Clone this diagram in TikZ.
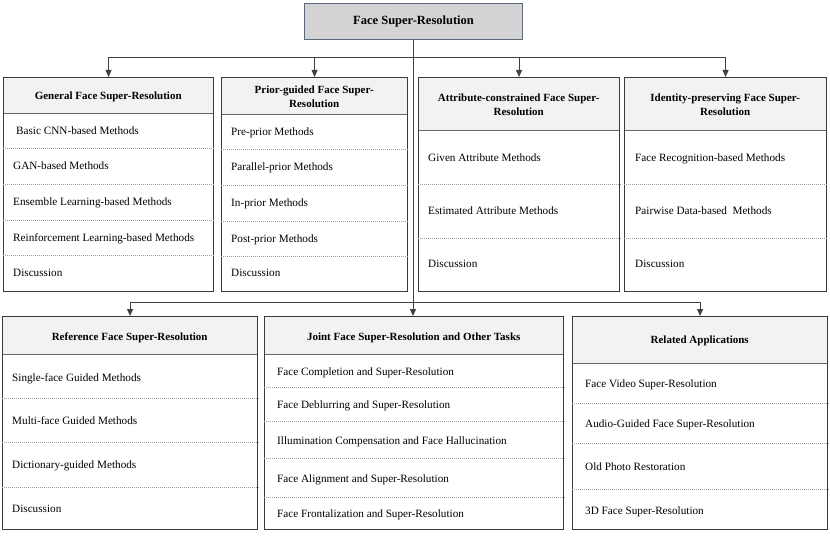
\documentclass[tikz,border=0pt]{standalone}
\usepackage{fontspec}
\setmainfont{Liberation Serif}
\usetikzlibrary{arrows.meta}
\definecolor{topfill}{HTML}{D3D3D3}
\definecolor{topdraw}{HTML}{5A6878}
\definecolor{headfill}{HTML}{F2F2F2}
\definecolor{boxdraw}{HTML}{3A3A3A}
\definecolor{conncol}{HTML}{404040}
\tikzset{
  outerbox/.style={draw=boxdraw, line width=1.1bp, anchor=north west, inner sep=0pt},
  headbox/.style={fill=headfill, anchor=north west, inner sep=0pt},
  headtext/.style={inner sep=0pt, align=center,
     font=\fontsize{11bp}{13.5bp}\selectfont\bfseries},
  topbox/.style={fill=topfill, draw=topdraw, line width=1.1bp, anchor=north west, inner sep=0pt,
     font=\fontsize{12.5bp}{14bp}\selectfont\bfseries},
  itemtext/.style={anchor=base west, inner sep=0pt, font=\fontsize{11.2bp}{13bp}\selectfont},
  sepline/.style={draw=gray!75, line width=0.8bp, dash pattern=on 1bp off 1bp},
  headline/.style={draw=gray!80!black, line width=1bp},
  conn/.style={draw=conncol, line width=1bp},
  arr/.style={conn, -{Triangle[length=7bp,width=6bp]}}
}
\begin{document}
\begin{tikzpicture}[x=1bp,y=-1bp]
\useasboundingbox (0,0) rectangle (830,537);
% top
\node[topbox, minimum width=218bp, minimum height=36bp] (top) at (304,3) {Face Super-Resolution};
% header fills
\node[headbox, minimum width=210bp, minimum height=36bp] (h1) at (3,77) {};
\node[headbox, minimum width=186bp, minimum height=37bp] (h2) at (221,77) {};
\node[headbox, minimum width=201bp, minimum height=53bp] (h3) at (418,77) {};
\node[headbox, minimum width=202bp, minimum height=53bp] (h4) at (624,77) {};
\node[headbox, minimum width=255bp, minimum height=38bp] (h5) at (2,316) {};
\node[headbox, minimum width=299bp, minimum height=38bp] (h6) at (264,316) {};
\node[headbox, minimum width=255bp, minimum height=47bp] (h7) at (572,316) {};
\foreach \h in {h1,h2,h3,h4,h5,h6,h7} \draw[headline] (\h.south west) -- (\h.south east);
% header texts
\node[headtext] (h1t) at ([yshift=-1.8bp]h1.center) {General Face Super-Resolution};
\node[headtext] (h2t) at ([yshift=-1.2bp]h2.center) {Prior-guided Face Super-\\Resolution};
\node[headtext] (h3t) at ([yshift=-1.2bp]h3.center) {Attribute-constrained Face Super-\\Resolution};
\node[headtext] (h4t) at ([yshift=-1.2bp]h4.center) {Identity-preserving Face Super-\\Resolution};
\node[headtext] (h5t) at ([yshift=-2.5bp]h5.center) {Reference Face Super-Resolution};
\node[headtext] (h6t) at ([yshift=-2.5bp]h6.center) {Joint Face Super-Resolution and Other Tasks};
\node[headtext] (h7t) at ([yshift=-1.5bp]h7.center) {Related Applications};
% outer boxes
\node[outerbox, minimum width=210bp, minimum height=214bp] (b1) at (3,77) {};
\node[outerbox, minimum width=186bp, minimum height=214bp] (b2) at (221,77) {};
\node[outerbox, minimum width=201bp, minimum height=214bp] (b3) at (418,77) {};
\node[outerbox, minimum width=202bp, minimum height=214bp] (b4) at (624,77) {};
\node[outerbox, minimum width=255bp, minimum height=213bp] (b5) at (2,316) {};
\node[outerbox, minimum width=299bp, minimum height=213bp] (b6) at (264,316) {};
\node[outerbox, minimum width=255bp, minimum height=213bp] (b7) at (572,316) {};
% separators
\foreach \y in {148,184,220,255} \draw[sepline] (b1.west |- 0,\y) -- (b1.east |- 0,\y);
\foreach \y in {149,185,221,256} \draw[sepline] (b2.west |- 0,\y) -- (b2.east |- 0,\y);
\foreach \y in {184,238} \draw[sepline] (b3.west |- 0,\y) -- (b3.east |- 0,\y);
\foreach \y in {184,238} \draw[sepline] (b4.west |- 0,\y) -- (b4.east |- 0,\y);
\foreach \y in {398,442,487} \draw[sepline] (b5.west |- 0,\y) -- (b5.east |- 0,\y);
\foreach \y in {387,421,458,497} \draw[sepline] (b6.west |- 0,\y) -- (b6.east |- 0,\y);
\foreach \y in {403,443,489} \draw[sepline] (b7.west |- 0,\y) -- (b7.east |- 0,\y);
% items box 1
\node[itemtext] (b1a) at (16,135) {Basic CNN-based Methods};
\node[itemtext] (b1b) at (13,170) {GAN-based Methods};
\node[itemtext] (b1c) at (13,206) {Ensemble Learning-based Methods};
\node[itemtext] (b1d) at (13,242) {Reinforcement Learning-based Methods};
\node[itemtext] (b1e) at (13,277) {Discussion};
% box 2
\node[itemtext] (b2a) at (231,136) {Pre-prior Methods};
\node[itemtext] (b2b) at (231,171) {Parallel-prior Methods};
\node[itemtext] (b2c) at (231,207) {In-prior Methods};
\node[itemtext] (b2d) at (231,243) {Post-prior Methods};
\node[itemtext] (b2e) at (231,277) {Discussion};
% box 3
\node[itemtext] (b3a) at (428,162) {Given Attribute Methods};
\node[itemtext] (b3b) at (428,215) {Estimated Attribute Methods};
\node[itemtext] (b3c) at (428,268) {Discussion};
% box 4
\node[itemtext] (b4a) at (635,162) {Face Recognition-based Methods};
\node[itemtext] (b4b) at (635,215) {Pairwise Data-based\ \ Methods};
\node[itemtext] (b4c) at (635,268) {Discussion};
% box 5
\node[itemtext] (b5a) at (12,381) {Single-face Guided Methods};
\node[itemtext] (b5b) at (12,424) {Multi-face Guided Methods};
\node[itemtext] (b5c) at (12,468) {Dictionary-guided Methods};
\node[itemtext] (b5d) at (12,512) {Discussion};
% box 6
\node[itemtext] (b6a) at (277,375) {Face Completion and Super-Resolution};
\node[itemtext] (b6b) at (277,408) {Face Deblurring and Super-Resolution};
\node[itemtext] (b6c) at (277,444) {Illumination Compensation and Face Hallucination};
\node[itemtext] (b6d) at (277,482) {Face Alignment and Super-Resolution};
\node[itemtext] (b6e) at (277,517) {Face Frontalization and Super-Resolution};
% box 7
\node[itemtext] (b7a) at (585,387) {Face Video Super-Resolution};
\node[itemtext] (b7b) at (585,427) {Audio-Guided Face Super-Resolution};
\node[itemtext] (b7c) at (585,470) {Old Photo Restoration};
\node[itemtext] (b7d) at (585,514) {3D Face Super-Resolution};
% connectors
\coordinate (j1) at (413,58);
\coordinate (j2) at (413,302);
\draw[arr] (top.south -| j1) -- (b6.north -| j1);
\draw[arr] (j1) -| (b1.north);
\draw[arr] (j1) -| (b2.north);
\draw[arr] (j1) -| (b3.north);
\draw[arr] (j1) -| (b4.north);
\draw[arr] (j2) -| (b5.north);
\draw[arr] (j2) -| (b7.north);
\end{tikzpicture}
\end{document}
